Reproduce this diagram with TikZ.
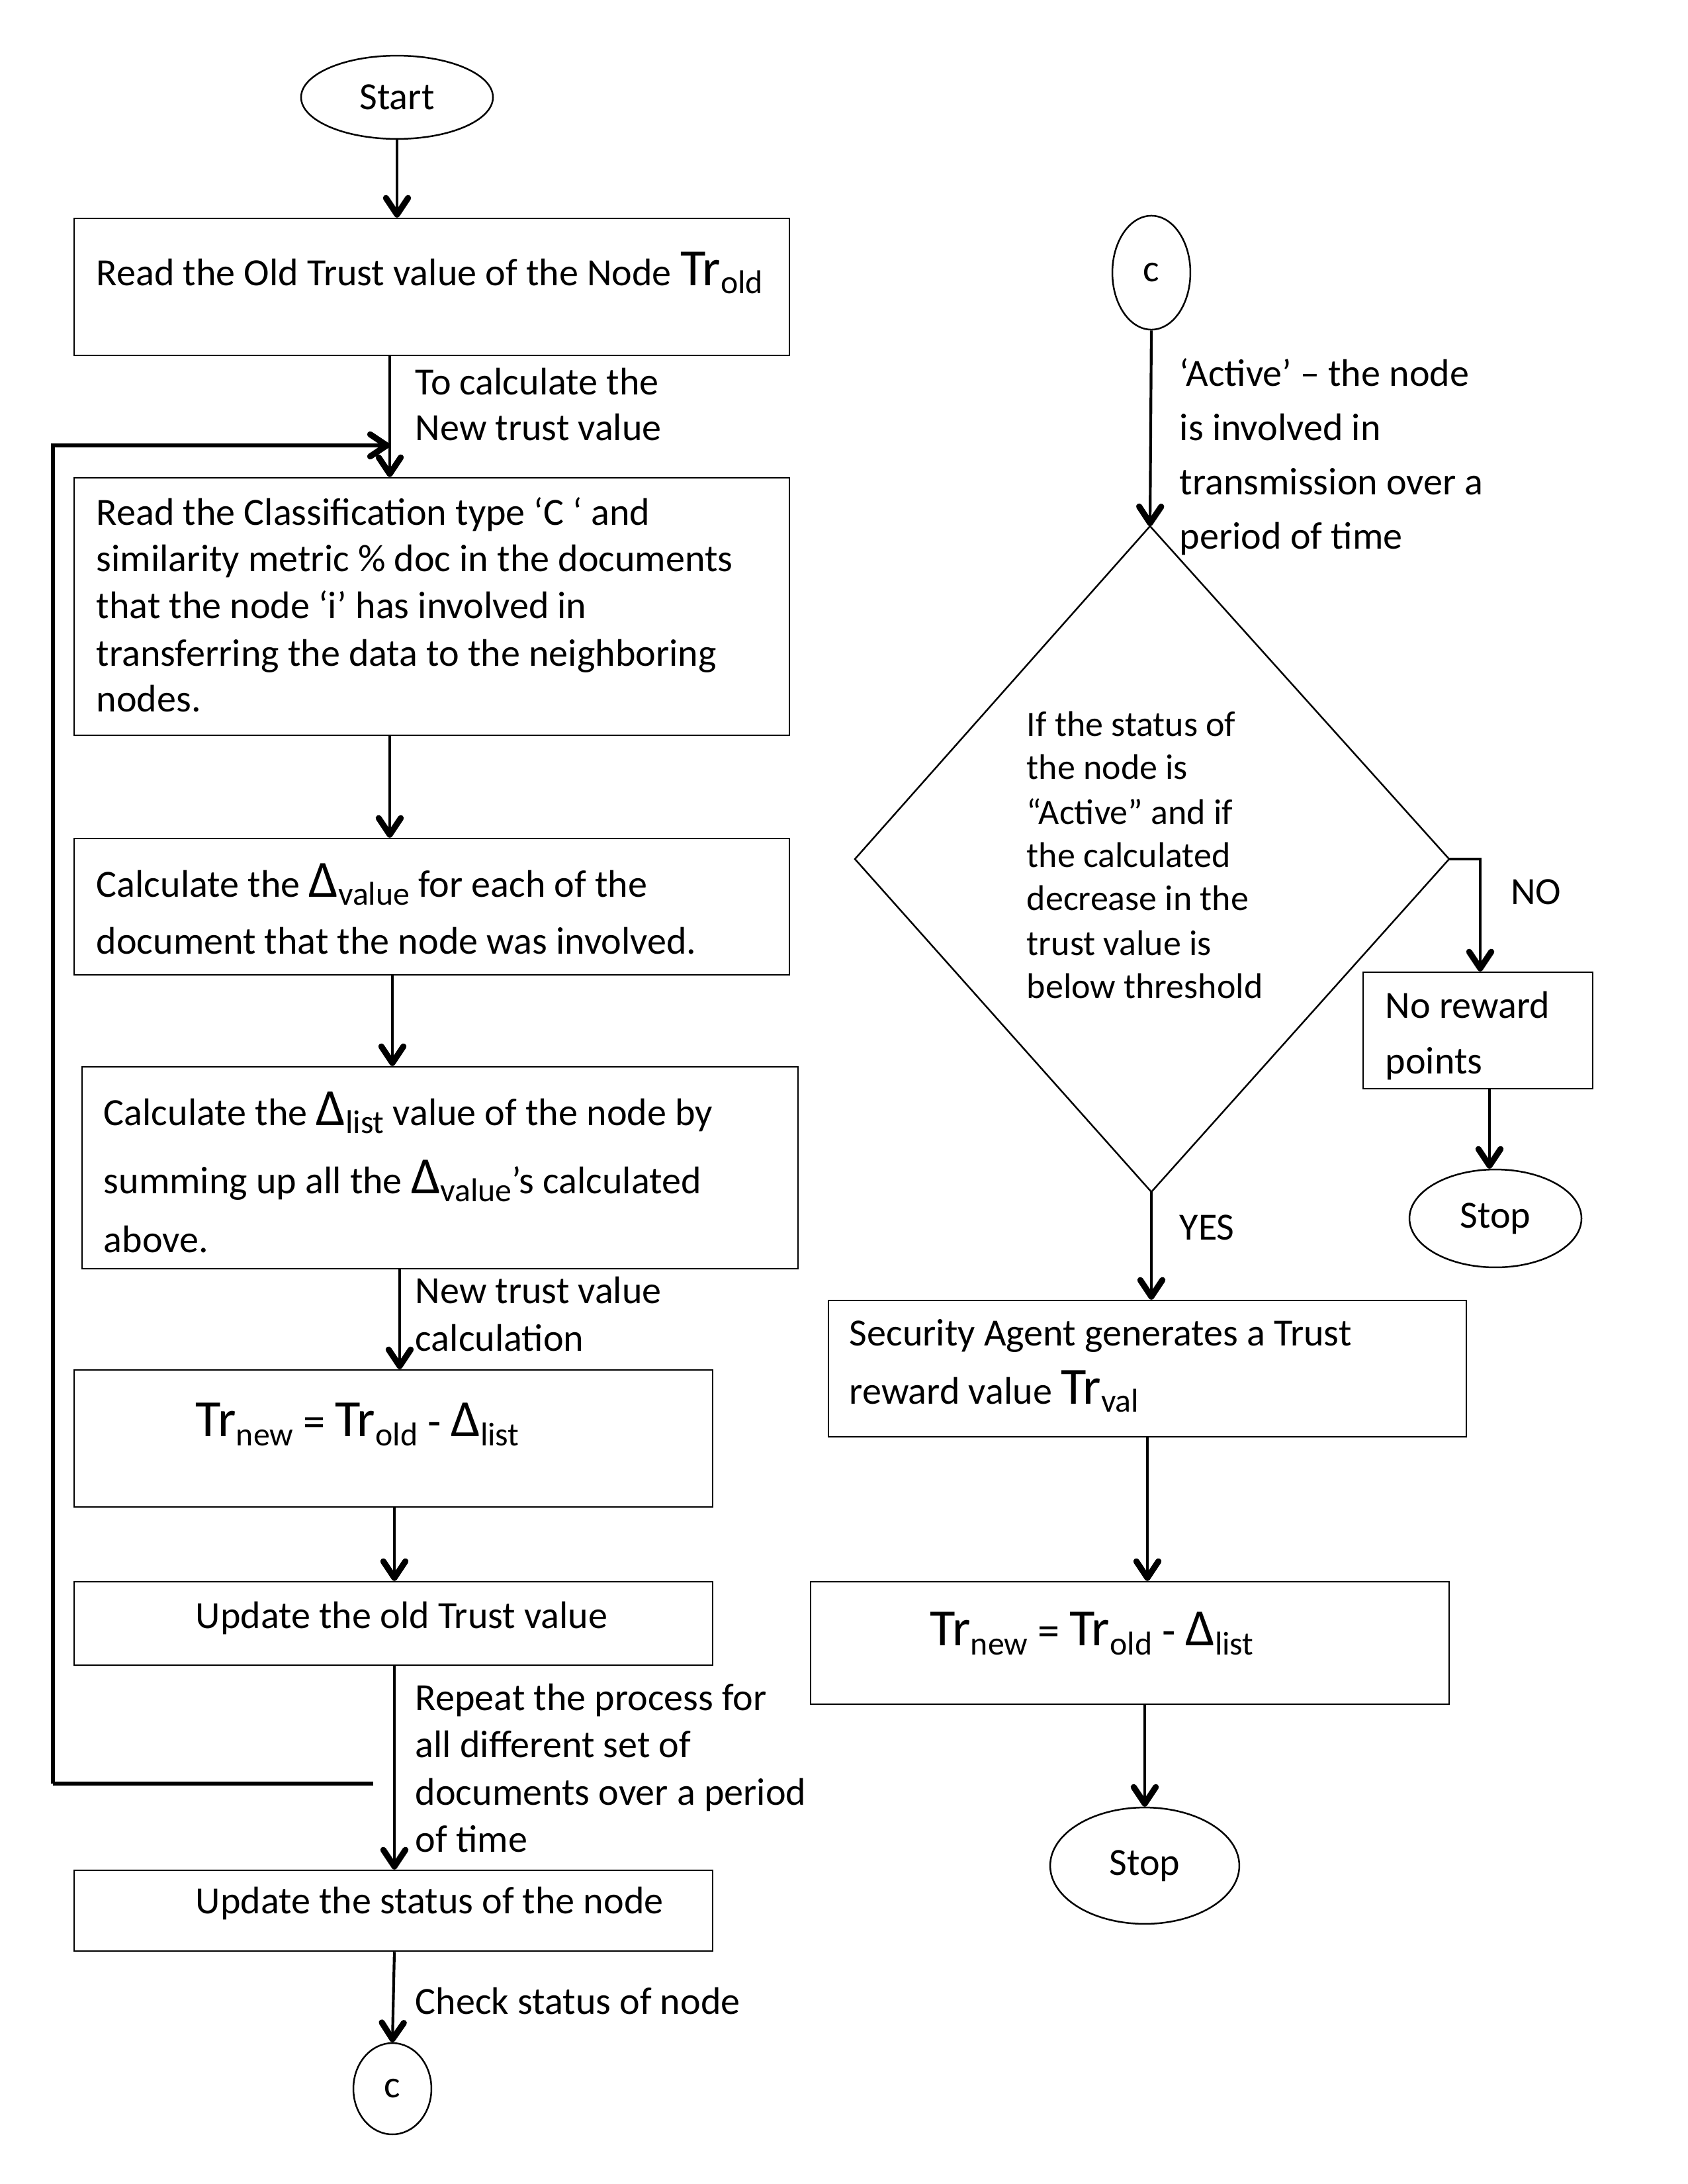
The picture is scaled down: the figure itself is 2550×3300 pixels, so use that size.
\documentclass[tikz,border=0pt]{standalone}
\usepackage{fontspec}
\setmainfont{Carlito}
\usetikzlibrary{arrows.meta,shapes.geometric,fit,calc}
\newcommand{\bigTr}{{\fontsize{19}{19}\selectfont Tr}}
\newcommand{\bigD}{{\fontsize{19}{19}\selectfont Δ}}
\newcommand{\lowsub}[1]{\raisebox{-0.45ex}{\fontsize{12}{12}\selectfont #1}}
\begin{document}
\begin{tikzpicture}[x=0.24bp,y=-0.24bp,
  box/.style={draw, line width=0.6bp, inner sep=0pt},
  oval/.style={draw, ellipse, line width=0.6bp, inner sep=0pt, font=\fontsize{14}{17}\selectfont},
  tip/.style={-{Straight Barb[length=6bp,width=8bp,line width=2.2bp,round]}},
  arr/.style={line width=1bp, tip},
  backline/.style={line width=1.6bp},
  txt/.style={inner sep=0pt, anchor=base west, font=\fontsize{14}{17}\selectfont},
  dtxt/.style={inner sep=0pt, anchor=base west, font=\fontsize{13}{15}\selectfont},
  ftxt/.style={inner sep=0pt, anchor=base west, font=\fontsize{16}{19}\selectfont}]
\useasboundingbox (0,0) rectangle (2550,3300);

% ---------------- left column ----------------
\node[oval, minimum width=69.6bp, minimum height=30.2bp] (start) at (600,147) {Start};

\node[box, fit={(112,330) (1193,537)}] (b1) {};
\node[txt] (t1) at (145,431) {Read the Old Trust value of the Node \bigTr\lowsub{old}};

\node[box, fit={(112,722) (1193,1111)}] (b2) {};
\node[txt] (t2a) at (145,793) {Read the Classification type ‘C ‘ and};
\node[txt] (t2b) at (145,863) {similarity metric \% doc in the documents};
\node[txt] (t2c) at (145,934) {that the node ‘i’ has involved in};
\node[txt] (t2d) at (145,1006) {transferring the data to the neighboring};
\node[txt] (t2e) at (145,1075) {nodes.};

\node[box, fit={(112,1267) (1193,1473)}] (b3) {};
\node[txt] (t3a) at (145,1355) {Calculate the \bigD\lowsub{value} for each of the};
\node[txt] (t3b) at (145,1441) {document that the node was involved.};

\node[box, fit={(124,1612) (1206,1917)}] (b4) {};
\node[txt] (t4a) at (156,1700) {Calculate the \bigD\lowsub{list} value of the node by};
\node[txt] (t4b) at (156,1803) {summing up all the \bigD\lowsub{value}’s calculated};
\node[txt] (t4c) at (156,1892) {above.};

\node[box, fit={(112,2070) (1077,2277)}] (b5) {};
\node[ftxt] (t5) at (295,2170) {\bigTr\lowsub{new} = \bigTr\lowsub{old} - \bigD\lowsub{list}};

\node[box, fit={(112,2390) (1077,2516)}] (b6) {};
\node[txt] (t6) at (295,2460) {Update the old Trust value};

\node[box, fit={(112,2826) (1077,2948)}] (b7) {};
\node[txt] (t7) at (295,2891) {Update the status of the node};

\node[oval, minimum width=28.3bp, minimum height=33.1bp] (cl) at (593,3156) {c};

% labels left
\node[txt] (l1a) at (627,596) {To calculate the};
\node[txt] (l1b) at (627,665) {New trust value};
\node[txt] (l2a) at (627,1969) {New trust value};
\node[txt] (l2b) at (627,2041) {calculation};
\node[txt] (l3a) at (627,2584) {Repeat the process for};
\node[txt] (l3b) at (627,2655) {all different set of};
\node[txt] (l3c) at (627,2727) {documents over a period};
\node[txt] (l3d) at (627,2798) {of time};
\node[txt] (l4) at (627,3043) {Check status of node};

% connectors left
\coordinate (xa) at (589,0);
\coordinate (xb) at (593,0);
\coordinate (xc) at (604,0);
\coordinate (xd) at (596,0);
\draw[arr] (start.south) -- (start |- b1.north);
\draw[arr] (xa |- b1.south) -- (xa |- b2.north);
\draw[arr] (xa |- b2.south) -- (xa |- b3.north);
\draw[arr] (xb |- b3.south) -- (xb |- b4.north);
\draw[arr] (xc |- b4.south) -- (xc |- b5.north);
\draw[arr] (xd |- b5.south) -- (xd |- b6.north);
\draw[arr] (xd |- b6.south) -- (xd |- b7.north);
\draw[arr] (xd |- b7.south) -- (cl.north);

\coordinate (lpA) at (564,2695);
\coordinate (lpB) at (80,2695);
\coordinate (lpEnd) at (589,673);
\draw[backline] (lpA) -- (lpB);
\draw[backline, tip] (lpB) |- (lpEnd);

% ---------------- right column ----------------
\node[oval, minimum width=28.3bp, minimum height=41.3bp] (cr) at (1740,412) {c};

\node[txt] (ra) at (1782,583) {‘Active’ – the node};
\node[txt] (rb) at (1782,665) {is involved in};
\node[txt] (rc) at (1782,747) {transmission over a};
\node[txt] (rd) at (1782,829) {period of time};

\coordinate (dT) at (1738,795);
\coordinate (dL) at (1292,1298);
\coordinate (dR) at (2190,1298);
\coordinate (dB) at (1740,1801);
\draw[line width=0.6bp] (dT) -- (dR) -- (dB) -- (dL) -- cycle;
\node[dtxt] (d1) at (1551,1112) {If the status of};
\node[dtxt] (d2) at (1551,1177) {the node is};
\node[dtxt] (d3) at (1551,1245) {“Active” and if};
\node[dtxt] (d4) at (1551,1310) {the calculated};
\node[dtxt] (d5) at (1551,1375) {decrease in the};
\node[dtxt] (d6) at (1551,1443) {trust value is};
\node[dtxt] (d7) at (1551,1508) {below threshold};

\node[box, fit={(2060,1469) (2407,1645)}] (nr) {};
\node[txt] (nr1) at (2093,1538) {No reward};
\node[txt] (nr2) at (2093,1622) {points};
\node[oval, minimum width=62.4bp, minimum height=35.5bp] (stop1) at (2260,1841) {Stop};

\node[txt, anchor=base] (no) at (2321,1366) {NO};
\node[txt] (yes) at (1782,1873) {YES};

\node[box, fit={(1252,1965) (2216,2171)}] (sec) {};
\node[txt] (s1) at (1283,2033) {Security Agent generates a Trust};
\node[txt] (s2) at (1283,2121) {reward value \bigTr\lowsub{val}};

\node[box, fit={(1225,2390) (2190,2575)}] (r2) {};
\node[ftxt] (r2t) at (1405,2486) {\bigTr\lowsub{new} = \bigTr\lowsub{old} - \bigD\lowsub{list}};

\node[oval, minimum width=68.6bp, minimum height=42.2bp] (stop2) at (1730,2819) {Stop};

% connectors right
\coordinate (xn) at (2237,0);
\coordinate (xs) at (2251,0);
\coordinate (xr) at (1734,0);
\coordinate (xq) at (1730,0);
\draw[arr] (cr.south) -- (dT);
\draw[arr] (dR) -| (xn |- nr.north);
\draw[arr] (xs |- nr.south) -- (xs |- stop1.north);
\draw[arr] (dB) -- (dB |- sec.north);
\draw[arr] (xr |- sec.south) -- (xr |- r2.north);
\draw[arr] (xq |- r2.south) -- (stop2.north);
\end{tikzpicture}
\end{document}
